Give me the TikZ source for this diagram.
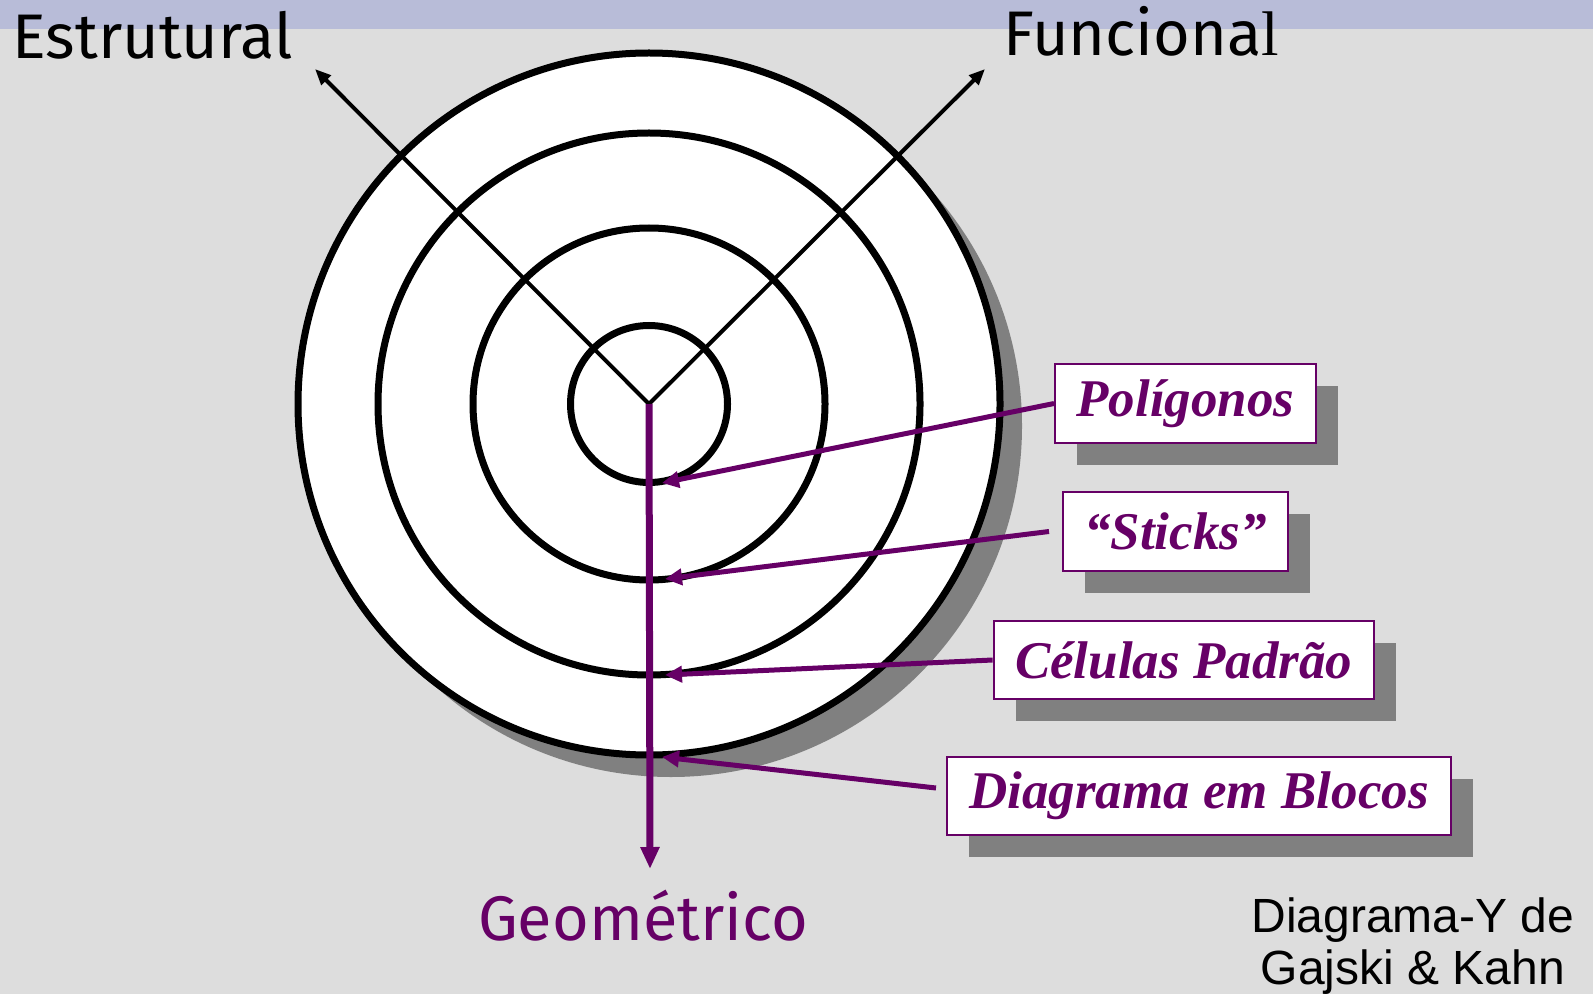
\documentclass[tikz,border=0pt]{standalone}
\usepackage{fontspec}
\usetikzlibrary{arrows.meta,shadows}
\newfontfamily\fira{Fira Sans}
\newfontfamily\tnr{Liberation Serif}
\newfontfamily\arial{Liberation Sans}
\definecolor{bg}{RGB}{221,221,221}
\definecolor{topbar}{RGB}{184,188,216}
\definecolor{shadowgray}{RGB}{128,128,128}
\definecolor{purp}{RGB}{102,0,102}
\begin{document}
\begin{tikzpicture}[x=0.5pt,y=-0.5pt,
  ring/.style={draw=black,line width=3.5pt},
  axis/.style={draw=black,line width=2pt,line join=miter},
  pointer/.style={draw=purp,line width=2.5pt,-{Triangle[length=8.5pt,width=8pt]}},
  lblbox/.style={draw=purp,line width=1pt,fill=white,inner sep=0pt,
    font=\tnr\bfseries\itshape\fontsize{26.5}{31}\selectfont,text=purp,
    drop shadow={shadow xshift=11pt,shadow yshift=-11pt,fill=shadowgray,opacity=1}},
  bigtxt/.style={inner sep=0pt,font=\fira\fontsize{31.5}{38}\selectfont}]
\useasboundingbox (0,0) rectangle (1593,994);
\fill[bg] (0,0) rectangle (1593,994);
\fill[topbar] (0,0) rectangle (1593,29);
% circles
\coordinate (O) at (649,404);
\fill[shadowgray] (671,426) circle[radius=175.5pt];
\draw[ring,fill=white] (O) circle[radius=175.5pt];
\draw[ring] (O) circle[radius=135.5pt];
\draw[ring] (O) circle[radius=88pt];
\draw[ring] (O) circle[radius=39.25pt];
% axes
\coordinate (E) at (315,69);
\coordinate (F) at (985,69);
\coordinate (G) at (650,869);
\draw[axis,{Triangle[length=8pt,width=6.5pt]}-{Triangle[length=8pt,width=6.5pt]}] (E) -- (O) -- (F);
\draw[purp,line width=3.5pt,-{Triangle[length=11pt,width=9pt]}] (O) -- (G);
% tips on the rings
\coordinate (T1) at (662,483);
\coordinate (T2) at (665,579);
\coordinate (T3) at (665,675);
\coordinate (T4) at (662,757);
% label boxes
\node[lblbox,minimum width=130.5pt,minimum height=39.5pt] (p1) at (1185.5,403.5) {Polígonos};
\node[lblbox,minimum width=112.5pt,minimum height=39.5pt] (p2) at (1175.5,531.5) {“Sticks”};
\node[lblbox,minimum width=190pt,minimum height=39pt] (p3) at (1183.6,660) {Células Padrão};
\node[lblbox,minimum width=252pt,minimum height=39pt] (p4) at (1199,796) {Diagrama em Blocos};
\draw[pointer] (p1.west) -- (T1);
\draw[pointer] ([xshift=-6.5pt]p2.west) -- (T2);
\draw[pointer] (p3.west) -- (T3);
\draw[pointer] ([xshift=-5pt,yshift=4pt]p4.west) -- (T4);
% texts
\node[bigtxt,anchor=base west] (est) at (12,59) {Estrutural};
\node[bigtxt,anchor=base west] (fun) at (1003,56) {Funciona{\tnr l}};
\node[bigtxt,anchor=base,text=purp] (geo) at (643,940) {Geométrico};
\node[inner sep=0pt,anchor=base,align=center,font=\arial\fontsize{24}{26}\selectfont] (cap) at (1413,984) {Diagrama-Y de\\Gajski \& Kahn};
\end{tikzpicture}
\end{document}
